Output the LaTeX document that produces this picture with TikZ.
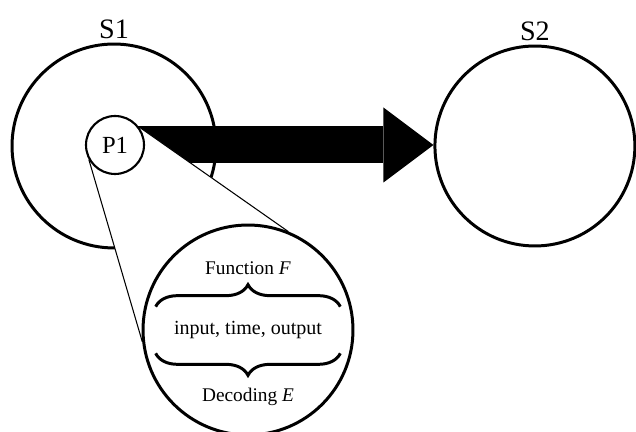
\documentclass[tikz,border=0pt]{standalone}
\usepackage{fontspec}
\setmainfont{Liberation Serif}
\usetikzlibrary{arrows.meta, calc, decorations.pathreplacing, positioning}
\pgfdeclarelayer{back}
\pgfdeclarelayer{mid}
\pgfsetlayers{back,mid,main}

\begin{document}
\begin{tikzpicture}[x=0.02cm, y=0.02cm, thick, link/.style={line width=0.74cm, -{Triangle[length=1cm, width=1.5cm, line width=0pt]}}, cone/.style={draw, fill=white, line width=0.6pt}, curly/.style={decorate, decoration={brace, amplitude=0.44cm}, line width=1.7pt}]
    % Define styles for sites, process, lens and labels
    \tikzstyle{site} = [draw, circle, line width=1.7pt, inner sep=0pt]
    \tikzstyle{proc} = [draw, circle, fill=white, line width=1.2pt, minimum size=1.16cm, inner sep=0pt, font=\fontsize{14}{16}\selectfont]
    \tikzstyle{lens} = [draw, circle, fill=white, line width=1.7pt, minimum size=4.2cm, inner sep=0pt]
    \tikzstyle{tag} = [inner sep=0pt, font=\fontsize{16}{18}\selectfont]
    \tikzstyle{note} = [inner sep=0pt, font=\fontsize{11}{13}\selectfont]

    \useasboundingbox (0,0) rectangle (636,432);

    % Nodes placement
    \begin{pgfonlayer}{back}
    \node [site, minimum size=4.08cm] (site1) at (114,286) {};
    \node [site, minimum size=4cm, right=4.32cm of site1] (site2) {};
    \end{pgfonlayer}
    \node [tag, above=0.07cm of site1] (site1label) {S1};
    \node [tag, above=0.07cm of site2] (site2label) {S2};
    \node [proc] (p1) at (115,287) {P1};
    \node [lens] (zoomlens) at (248,102) {};
    \node [note, font=\fontsize{11.4}{13}\selectfont, minimum width=3.68cm, minimum height=0.92cm] (triple) at (zoomlens) {input, time, output};
    \node [note, above=0.64cm of triple] (funclabel) {Function \textit{F}};
    \node [note, below=0.68cm of triple] (decodlabel) {Decoding \textit{E}};

    % Draw edges
    \begin{pgfonlayer}{mid}
    \draw[link] (p1.center) -- (p1.center -| site2.west);
    \draw[cone] (p1.37) -- (zoomlens.68) -- (zoomlens.186) -- (p1.210) -- cycle;
    \end{pgfonlayer}

    % Braces round the triple
    \draw[curly] (triple.north west) -- (triple.north east);
    \draw[curly] (triple.south east) -- (triple.south west);
\end{tikzpicture}
\end{document}
